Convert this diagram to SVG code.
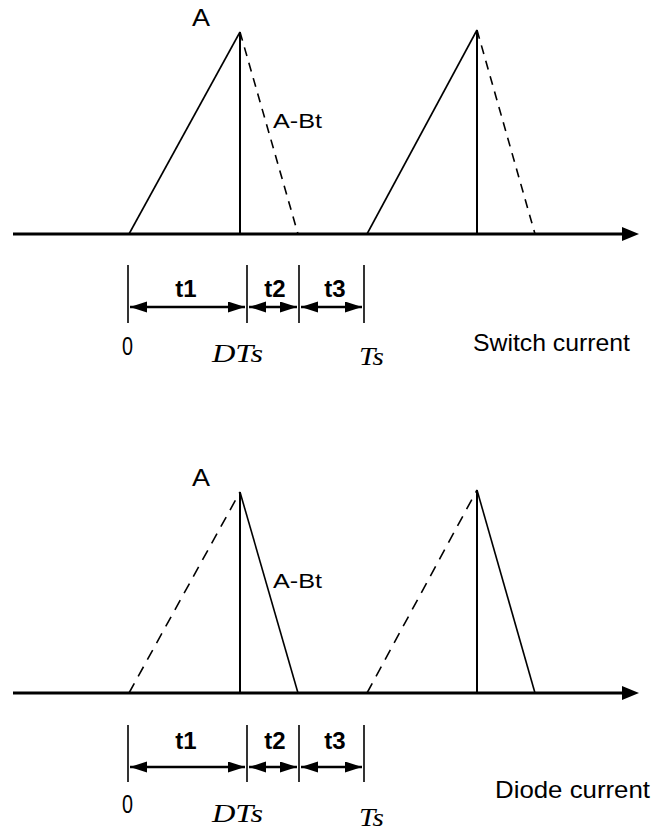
<svg xmlns="http://www.w3.org/2000/svg" width="651" height="833" viewBox="0 0 651 833">
<style>
.ax{stroke:#000;stroke-width:3;fill:none}
.sol{stroke:#000;stroke-width:1.6;fill:none}
.dsh{stroke:#000;stroke-width:1.6;fill:none;stroke-dasharray:9 7}
.vert{stroke:#000;stroke-width:2;fill:none}
.tick{stroke:#000;stroke-width:1.6;fill:none}
.dim{stroke:#000;stroke-width:2.5;fill:none;marker-start:url(#dh);marker-end:url(#dh)}
.lab{font-family:"Liberation Sans",Arial,sans-serif;fill:#000}
.tl{font-family:"Liberation Sans",Arial,sans-serif;font-weight:bold;font-size:24px;fill:#000;text-anchor:middle}
.it{font-family:"Liberation Serif","Times New Roman",serif;font-style:italic;font-size:26px;fill:#000}
</style>
<defs>
<marker id="dh" markerUnits="userSpaceOnUse" markerWidth="18" markerHeight="12" refX="17" refY="5.5" orient="auto-start-reverse">
<path d="M0,0 L17,5.5 L0,11 z" fill="#000"/>
</marker>
</defs>

<g id="switch-panel">
<g id="switch-axis"><line class="ax" x1="13" y1="234" x2="624" y2="234"/><path d="M622,227 L639,234 L622,241 z" fill="#000"/></g>
<g id="switch-pulse1">
<line class="sol" x1="129" y1="234" x2="240" y2="32"/>
<line class="vert" x1="240" y1="32" x2="240" y2="234"/>
<line class="dsh" x1="240" y1="32" x2="298" y2="234"/>
</g>
<g id="switch-pulse2">
<line class="sol" x1="367" y1="234" x2="477" y2="30"/>
<line class="vert" x1="477" y1="30" x2="477" y2="234"/>
<line class="dsh" x1="477" y1="30" x2="535" y2="234"/>
</g>
<text class="lab" x="192" y="26" font-size="24" textLength="18" lengthAdjust="spacingAndGlyphs">A</text>
<text class="lab" x="273" y="128" font-size="21" textLength="49" lengthAdjust="spacingAndGlyphs">A-Bt</text>
<g id="switch-dims">
<line class="tick" x1="128" y1="265" x2="128" y2="323"/>
<line class="tick" x1="247" y1="265" x2="247" y2="323"/>
<line class="tick" x1="299" y1="265" x2="299" y2="323"/>
<line class="tick" x1="364" y1="265" x2="364" y2="323"/>
<line class="dim" x1="130" y1="307" x2="245" y2="307"/>
<line class="dim" x1="249" y1="307" x2="297" y2="307"/>
<line class="dim" x1="301" y1="307" x2="362" y2="307"/>
<text class="tl" x="186" y="297">t1</text>
<text class="tl" x="275" y="297">t2</text>
<text class="tl" x="335" y="297">t3</text>
</g>
<text class="lab" x="122" y="355" font-size="25" textLength="11" lengthAdjust="spacingAndGlyphs">0</text>
<text class="it" x="212" y="362" textLength="51" lengthAdjust="spacingAndGlyphs">DTs</text>
<text class="it" x="359" y="365" textLength="25" lengthAdjust="spacingAndGlyphs">Ts</text>
<text class="lab" x="473" y="351" font-size="24" textLength="157" lengthAdjust="spacingAndGlyphs">Switch current</text>
</g>

<g id="diode-panel">
<g id="diode-axis"><line class="ax" x1="13" y1="693" x2="624" y2="693"/><path d="M622,686 L639,693 L622,700 z" fill="#000"/></g>
<g id="diode-pulse1">
<line class="dsh" x1="129" y1="693" x2="240" y2="492" style="stroke-dasharray:11 8"/>
<line class="vert" x1="240" y1="492" x2="240" y2="693"/>
<line class="sol" x1="240" y1="492" x2="298" y2="693"/>
</g>
<g id="diode-pulse2">
<line class="dsh" x1="367" y1="693" x2="477" y2="490" style="stroke-dasharray:11 8"/>
<line class="vert" x1="477" y1="490" x2="477" y2="693"/>
<line class="sol" x1="477" y1="490" x2="535" y2="693"/>
</g>
<text class="lab" x="192" y="486" font-size="24" textLength="18" lengthAdjust="spacingAndGlyphs">A</text>
<text class="lab" x="273" y="588" font-size="21" textLength="49" lengthAdjust="spacingAndGlyphs">A-Bt</text>
<g id="diode-dims">
<line class="tick" x1="128" y1="725" x2="128" y2="782"/>
<line class="tick" x1="247" y1="725" x2="247" y2="782"/>
<line class="tick" x1="299" y1="725" x2="299" y2="782"/>
<line class="tick" x1="364" y1="725" x2="364" y2="782"/>
<line class="dim" x1="130" y1="767" x2="245" y2="767"/>
<line class="dim" x1="249" y1="767" x2="297" y2="767"/>
<line class="dim" x1="301" y1="767" x2="362" y2="767"/>
<text class="tl" x="186" y="749">t1</text>
<text class="tl" x="275" y="749">t2</text>
<text class="tl" x="335" y="749">t3</text>
</g>
<text class="lab" x="122" y="813" font-size="25" textLength="11" lengthAdjust="spacingAndGlyphs">0</text>
<text class="it" x="212" y="822" textLength="51" lengthAdjust="spacingAndGlyphs">DTs</text>
<text class="it" x="359" y="826" textLength="25" lengthAdjust="spacingAndGlyphs">Ts</text>
<text class="lab" x="495" y="798" font-size="24" textLength="155" lengthAdjust="spacingAndGlyphs">Diode current</text>
</g>
</svg>
